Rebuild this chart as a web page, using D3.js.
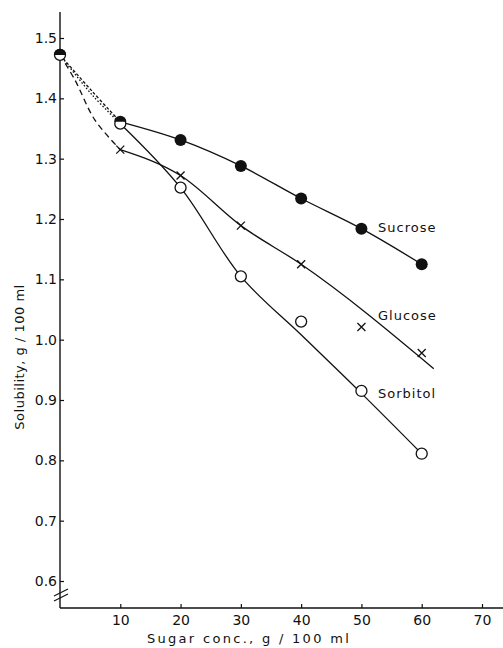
<!DOCTYPE html>
<html>
<head>
<meta charset="utf-8">
<script src="https://cdn.jsdelivr.net/npm/d3@7"></script>
<style>
	body { margin: 0; background: #fff; }
	text { font-family: "DejaVu Sans", sans-serif; fill: #111; }
</style>
</head>
<body>
<div id="chart"></div>
<script>
// sugar concentration, g / 100 ml
var conc = [0, 10, 20, 30, 40, 50, 60];

// measured solubility, g / 100 ml
var sucrose = [1.472, 1.361, 1.331, 1.288, 1.234, 1.184, 1.125];
var glucose = [1.472, 1.315, 1.272, 1.189, 1.125, 1.021, 0.978];
var sorbitol = [1.472, 1.358, 1.252, 1.105, 1.030, 0.915, 0.811];

// hand drawn curves as [conc, solubility]
var sucroseDash = [[0, 1.472], [5.3, 1.412], [10, 1.361]];
var sorbitolDash = [[0, 1.472], [5.3, 1.406], [10, 1.358]];
var glucoseDash = [[0, 1.472], [2.5, 1.430], [5.8, 1.364], [10, 1.315]];
var sucroseFit = [[10, 1.361], [20, 1.331], [30, 1.288], [40, 1.234], [50, 1.184], [60, 1.125]];
var glucoseFit = [[10, 1.315], [20, 1.272], [30, 1.189], [40, 1.125], [62, 0.952]];
var sorbitolFit = [[10, 1.358], [20, 1.252], [30, 1.105], [40, 1.008], [50, 0.911], [60, 0.811]];

var xTicks = [10, 20, 30, 40, 50, 60, 70];
var yTicks = [0.6, 0.7, 0.8, 0.9, 1.0, 1.1, 1.2, 1.3, 1.4, 1.5];

var width = 503;
var height = 648;

var svg = d3.select("#chart").append("svg")
	.attr("width", width)
	.attr("height", height);

var x = d3.scaleLinear().domain([0, 70]).range([60, 482]);
var y = d3.scaleLinear().domain([0.6, 1.5]).range([581, 38]);
var axisY = 608;

//axes lines
svg.append("line")
	.attr("x1", x(0)).attr("x2", width)
	.attr("y1", axisY).attr("y2", axisY)
	.style("stroke", "#111").style("stroke-width", 1.4);
svg.append("line")
	.attr("x1", x(0)).attr("x2", x(0))
	.attr("y1", 12).attr("y2", axisY)
	.style("stroke", "#111").style("stroke-width", 1.4);

//y ticks point inward
var yAxis = svg.append("g")
	.attr("transform", "translate(" + x(0) + ",0)")
	.call(d3.axisRight(y).tickValues(yTicks).tickSize(4).tickFormat(d3.format(".1f")));
yAxis.select(".domain").remove();
yAxis.selectAll("line").style("stroke", "#111").style("stroke-width", 1.2);
yAxis.selectAll("text")
	.attr("x", -3)
	.attr("text-anchor", "end")
	.style("font-size", "14px");

var xAxis = svg.append("g")
	.attr("transform", "translate(0," + axisY + ")")
	.call(d3.axisTop(x).tickValues(xTicks).tickSize(4));
xAxis.select(".domain").remove();
xAxis.selectAll("line").style("stroke", "#111").style("stroke-width", 1.2);
xAxis.selectAll("text")
	.attr("y", 12)
	.attr("dy", "0.35em")
	.style("font-size", "14px");

//axis break mark
[0, 5].forEach(function(off) {
	svg.append("line")
		.attr("x1", 54).attr("y1", 596 + off)
		.attr("x2", 68).attr("y2", 589 + off)
		.style("stroke", "#111").style("stroke-width", 1.2);
});

//axis titles
svg.append("text")
	.attr("x", 249).attr("y", 643)
	.attr("text-anchor", "middle")
	.style("font-size", "13px")
	.style("letter-spacing", "2.3px")
	.text("Sugar conc., g / 100 ml");
svg.append("text")
	.attr("transform", "translate(24,357) rotate(-90)")
	.attr("text-anchor", "middle")
	.style("font-size", "13px")
	.style("letter-spacing", "0.5px")
	.text("Solubility, g / 100 ml");

//curves
function makeLine(curve) {
	return d3.line()
		.x(function(d) { return x(d[0]); })
		.y(function(d) { return y(d[1]); })
		.curve(curve);
}

function drawCurve(pts, curve, dash) {
	svg.append("path")
		.datum(pts)
		.attr("d", makeLine(curve))
		.style("fill", "none")
		.style("stroke", "#111")
		.style("stroke-width", 1.3)
		.style("stroke-dasharray", dash || null);
}

drawCurve(sucroseDash, d3.curveCatmullRom, "3,2");
drawCurve(sorbitolDash, d3.curveCatmullRom, "1.5,2");
drawCurve(glucoseDash, d3.curveCatmullRom, "6,4");
drawCurve(sucroseFit, d3.curveCatmullRom);
drawCurve(glucoseFit, d3.curveMonotoneX);
drawCurve(sorbitolFit, d3.curveCatmullRom);

//markers
var r = 5.5;
conc.forEach(function(c, i) {
	if (i > 0) {
		svg.append("path")
			.attr("transform", "translate(" + x(c) + "," + y(glucose[i]) + ")")
			.attr("d", "M-4,-4L4,4M-4,4L4,-4")
			.style("stroke", "#111").style("stroke-width", 1.3);
	}
	svg.append("circle")
		.attr("cx", x(c)).attr("cy", y(sorbitol[i]))
		.attr("r", r)
		.style("fill", "#fff").style("stroke", "#111").style("stroke-width", 1.3);
	if (i < 2) {
		// sucrose and sorbitol overlap here: half filled marker
		svg.append("path")
			.attr("transform", "translate(" + x(c) + "," + y(sucrose[i]) + ")")
			.attr("d", d3.arc()({innerRadius: 0, outerRadius: r + 0.6, startAngle: -Math.PI / 2, endAngle: Math.PI / 2}))
			.style("fill", "#111");
	} else {
		svg.append("circle")
			.attr("cx", x(c)).attr("cy", y(sucrose[i]))
			.attr("r", r + 0.5)
			.style("fill", "#111");
	}
});

//series labels
var labels = [["Sucrose", 378, 232], ["Glucose", 378, 320], ["Sorbitol", 378, 398]];
labels.forEach(function(l) {
	svg.append("text")
		.attr("x", l[1]).attr("y", l[2])
		.style("font-size", "13px")
		.style("letter-spacing", "1px")
		.text(l[0]);
});
</script>
</body>
</html>
